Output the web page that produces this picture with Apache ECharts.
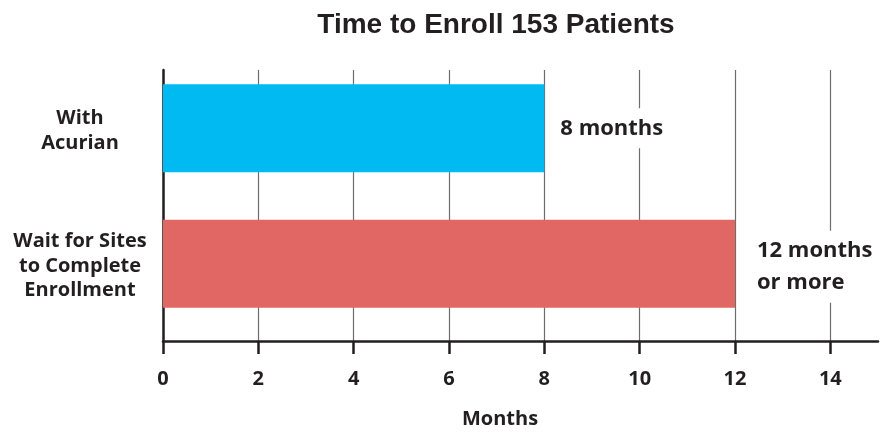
<!DOCTYPE html>
<html>
<head>
<meta charset="utf-8">
<script src="https://cdn.jsdelivr.net/npm/echarts@6/dist/echarts.min.js"></script>
<style>
html,body{margin:0;padding:0;background:#fff;}
#c{width:880px;height:434px;}
</style>
</head>
<body>
<div id="c"></div>
<script>
const categories = ['With\nAcurian', 'Wait for Sites\nto Complete\nEnrollment'];
const months = [8, 12];
const valueLabels = ['8 months', '12 months\nor more'];
const barColors = ['#00BAF1', '#E06763'];
const tickValues = [0, 2, 4, 6, 8, 10, 12, 14];

const FONT = '"Open Sans", "Noto Sans", sans-serif';
const INK = '#231F20';

const chart = echarts.init(document.getElementById('c'));
chart.setOption({
  animation: false,
  backgroundColor: '#ffffff',
  title: {
    text: 'Time to Enroll 153 Patients',
    left: 491,
    textAlign: 'center',
    top: 6,
    textStyle: { fontFamily: '"Liberation Sans", Arial, sans-serif', fontWeight: 'bold', fontSize: 28, color: INK }
  },
  grid: { left: 163, right: 2, top: 70, bottom: 88, containLabel: false },
  xAxis: {
    type: 'value',
    min: 0,
    max: 15,
    interval: 2,
    name: 'Months',
    nameLocation: 'middle',
    nameGap: 68,
    nameTextStyle: { fontFamily: FONT, fontWeight: 'bold', fontSize: 20, color: INK, padding: [0, 41, 0, 0] },
    axisLine: { show: true, lineStyle: { color: INK, width: 2.5 } },
    axisTick: { show: true, customValues: tickValues, length: 13, lineStyle: { color: INK, width: 2.5 } },
    axisLabel: { customValues: tickValues, margin: 28, fontFamily: FONT, fontWeight: 'bold', fontSize: 20, color: INK },
    splitLine: { show: true, lineStyle: { color: '#6d6d6d', width: 1.2 } }
  },
  yAxis: {
    type: 'category',
    inverse: true,
    data: categories,
    axisLine: { show: true, lineStyle: { color: INK, width: 2.5 } },
    axisTick: { show: false },
    axisLabel: {
      margin: 83,
      align: 'center',
      fontFamily: FONT,
      fontWeight: 'bold',
      fontSize: 20,
      lineHeight: 24.5,
      color: INK,
      formatter: v => v + '\n{s|}',
      rich: { s: { lineHeight: 14, fontSize: 10 } }
    }
  },
  series: [{
    type: 'bar',
    barWidth: 88,
    barGap: '20%',
    data: months.map((v, i) => ({
      value: v,
      itemStyle: { color: barColors[i] },
      label: { distance: i === 0 ? 10 : 16, offset: [0, i === 0 ? 0 : 3] }
    })),
    label: {
      show: true,
      position: 'right',
      formatter: p => valueLabels[p.dataIndex],
      fontFamily: FONT,
      fontWeight: 'bold',
      fontSize: 22,
      lineHeight: 32,
      color: INK,
      backgroundColor: '#ffffff',
      padding: [4, 6, 4, 6]
    }
  }, {
    type: 'bar',
    barWidth: 1.4,
    silent: true,
    itemStyle: { color: 'rgba(0,0,0,0)' },
    data: months.map(() => 0)
  }]
});
</script>
</body>
</html>
